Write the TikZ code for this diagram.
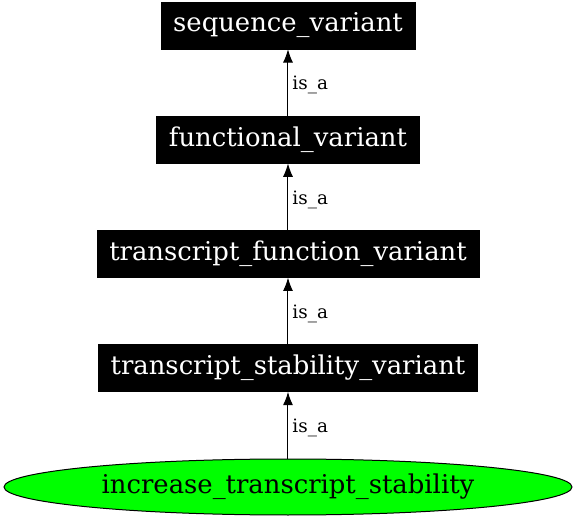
\documentclass[tikz,border=0pt]{standalone}
\usepackage{fontspec}
\setmainfont{DejaVu Serif}
\usetikzlibrary{
  arrows.meta,
  positioning,
  shapes.geometric
}
\tikzset{
  % For the black class boxes.
  class/.style={
    rectangle,
    fill=black,
    draw=black,
    text=white,
    minimum height=35.25pt,
    inner xsep=9.2pt,
    inner ysep=0pt,
    font=\fontsize{19.4pt}{22pt}\selectfont},
%
  % For the green term at the bottom.
  term/.style={
    ellipse,
    fill=green,
    draw=black,
    line width=0.75pt,
    minimum width=426pt,
    minimum height=42pt,
    inner sep=0pt,
    font=\fontsize{19.4pt}{22pt}\selectfont},
%
  % For relations pointing to the parent.
  relation/.style={
    line width=0.75pt,
    -{Latex[length=10pt,width=7.5pt]}},
%
  % For relation labels.
  edge label/.style={
    right,
    inner sep=3pt,
    yshift=-2pt,
    font=\fontsize{13.8pt}{16pt}\selectfont},
%
  node distance=50pt
}

\begin{document}
\begin{tikzpicture}
  \useasboundingbox (-216pt,-24pt) rectangle (216pt,365.25pt);

  \node[term] (class0) at (0,0) {increase\_transcript\_stability};

  \foreach \name [count=\i, remember=\i as \lasti (initially 0)] in
    {transcript\_stability\_variant, transcript\_function\_variant,
     functional\_variant, sequence\_variant}
    {\node[class, above=of class\lasti] (class\i) {\name};
     \draw[relation] (class\lasti) -- node[edge label] {is\_a} (class\i);
    }
\end{tikzpicture}
\end{document}
